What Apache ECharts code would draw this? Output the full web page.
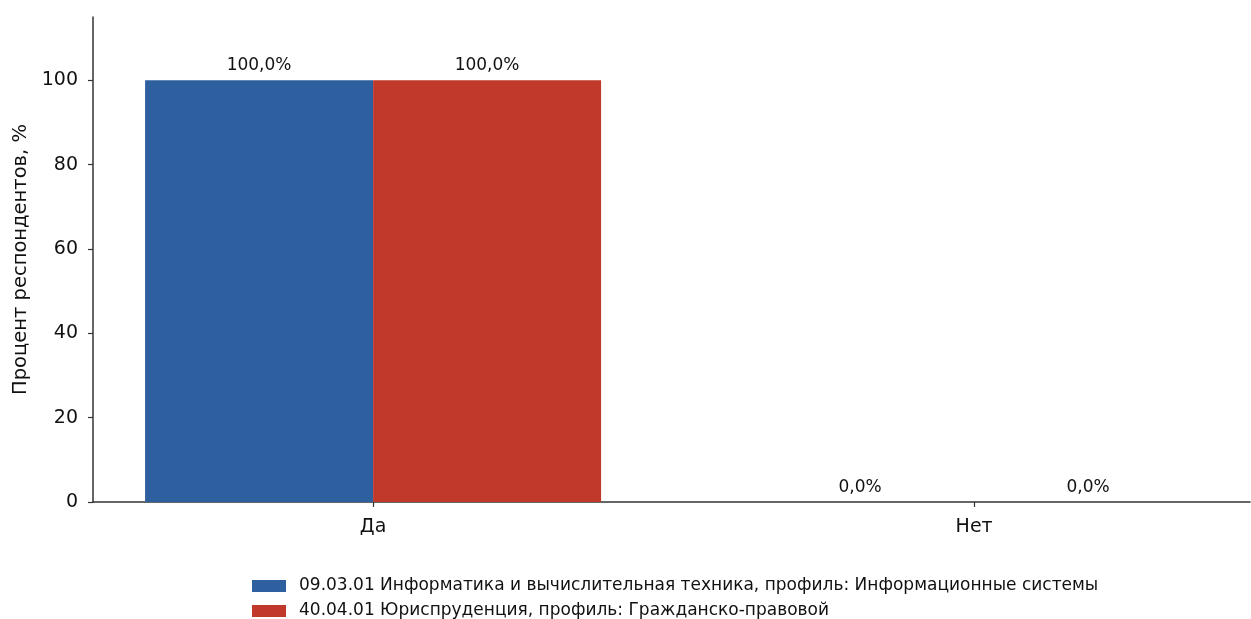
<!DOCTYPE html>
<html>
<head>
<meta charset="utf-8">
<script src="https://cdn.jsdelivr.net/npm/echarts@6/dist/echarts.min.js"></script>
<style>
html,body{margin:0;padding:0;background:#fff;}
#c{width:1251px;height:619px;}
</style>
</head>
<body>
<div id="c"></div>
<script>
const categories = ['Да', 'Нет'];
const seriesNames = [
  '09.03.01 Информатика и вычислительная техника, профиль: Информационные системы',
  '40.04.01 Юриспруденция, профиль: Гражданско-правовой'
];
const valuesIT = [100.0, 0.0];
const valuesLaw = [100.0, 0.0];
const yTicks = [0, 20, 40, 60, 80, 100];
const colors = ['#2e5f9f', '#c0392b'];

const font = 'DejaVu Sans';
const positions = categories.map((c, i) => i);

function mkSeries(name, vals, color) {
  return {
    name: name,
    type: 'bar',
    data: vals.map((v, i) => [positions[i], v]),
    barWidth: 228,
    barGap: '0%',
    itemStyle: { color: color },
    label: {
      show: true,
      position: 'top',
      distance: 6,
      fontFamily: font,
      fontSize: 17,
      color: '#111',
      formatter: p => p.value[1].toFixed(1).replace('.', ',') + '%'
    }
  };
}

function mkLegend(name, top) {
  return {
    orient: 'vertical',
    left: 252,
    top: top,
    padding: 0,
    itemWidth: 34,
    itemHeight: 12,
    icon: 'rect',
    textStyle: { fontFamily: font, fontSize: 17, color: '#111', lineHeight: 18, padding: [0, 0, 0, 8] },
    data: [name]
  };
}

const chart = echarts.init(document.getElementById('c'), null, { renderer: 'canvas' });
chart.setOption({
  animation: false,
  backgroundColor: '#fff',
  textStyle: { fontFamily: font },
  grid: { left: 93, right: 1, top: 17, bottom: 117, containLabel: false },
  xAxis: {
    type: 'value',
    min: -0.466,
    max: 1.459,
    splitLine: { show: false },
    axisLine: { show: true, onZero: false, lineStyle: { color: '#333', width: 1.5 } },
    axisTick: { show: true, length: 5, customValues: positions, lineStyle: { color: '#333', width: 1.2 } },
    axisLabel: {
      customValues: positions,
      formatter: v => categories[Math.round(v)],
      fontFamily: font, fontSize: 19, color: '#111', margin: 16
    }
  },
  yAxis: {
    type: 'value',
    min: 0,
    max: 115,
    name: 'Процент респондентов, %',
    nameLocation: 'middle',
    nameRotate: 90,
    nameGap: 60,
    nameTextStyle: { fontFamily: font, fontSize: 19.5, color: '#111' },
    splitLine: { show: false },
    axisLine: { show: true, onZero: false, lineStyle: { color: '#333', width: 1.5 } },
    axisTick: { show: true, length: 5, customValues: yTicks, lineStyle: { color: '#333', width: 1.2 } },
    axisLabel: { customValues: yTicks, fontFamily: font, fontSize: 19, color: '#111', margin: 15 }
  },
  legend: [
    mkLegend(seriesNames[0], 577),
    mkLegend(seriesNames[1], 602)
  ],
  series: [
    mkSeries(seriesNames[0], valuesIT, colors[0]),
    mkSeries(seriesNames[1], valuesLaw, colors[1])
  ]
});
</script>
</body>
</html>
